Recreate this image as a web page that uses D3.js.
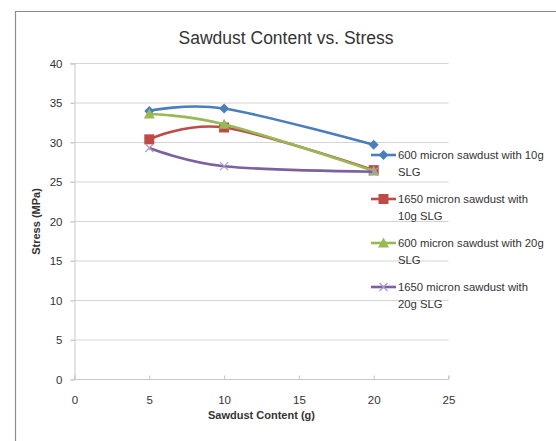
<!DOCTYPE html>
<html>
<head>
<meta charset="utf-8">
<script src="https://cdn.jsdelivr.net/npm/d3@7"></script>
<style>
  html, body { margin: 0; padding: 0; background: #fff; }
  svg { display: block; }
  text { font-family: "Liberation Sans", Arial, sans-serif; fill: #333; }
</style>
</head>
<body>
<svg id="chart" width="556" height="441"></svg>
<script>
// Sawdust content (g) on the x axis
const sawdust = [5, 10, 20];

// Stress (MPa) for each mix
const stress600_10g  = [34.0, 34.3, 29.7];
const stress1650_10g = [30.4, 31.9, 26.5];
const stress600_20g  = [33.6, 32.3, 26.4];
const stress1650_20g = [29.3, 27.0, 26.3];

const seriesNames = [
  ["600 micron sawdust with 10g", "SLG"],
  ["1650 micron sawdust with", "10g SLG"],
  ["600 micron sawdust with 20g", "SLG"],
  ["1650 micron sawdust with", "20g SLG"]
];

const xTicks = [0, 5, 10, 15, 20, 25];
const yTicks = [0, 5, 10, 15, 20, 25, 30, 35, 40];

const series = [
  { name: seriesNames[0], values: stress600_10g,  color: "#4a7ebb", marker: "diamond" },
  { name: seriesNames[1], values: stress1650_10g, color: "#be4b48", marker: "square" },
  { name: seriesNames[2], values: stress600_20g,  color: "#98b954", marker: "triangle" },
  { name: seriesNames[3], values: stress1650_20g, color: "#7d60a0", marker: "cross" }
];

const svg = d3.select("#chart");

// chart frame
svg.append("path")
  .attr("d", "M15.5,441 V11.5 H556")
  .attr("fill", "none")
  .attr("stroke", "#8c8c8c")
  .attr("stroke-width", 1.2);

const x = d3.scaleLinear().domain([0, 25]).range([74.5, 448.5]);
const y = d3.scaleLinear().domain([0, 40]).range([379.5, 63.5]);

// gridlines
svg.append("g")
  .selectAll("line")
  .data(yTicks.filter(t => t > 0))
  .join("line")
  .attr("x1", x(0) - 4).attr("x2", x(25))
  .attr("y1", d => y(d)).attr("y2", d => y(d))
  .attr("stroke", "#d4d4d4").attr("stroke-width", 1);

// y axis
const yAxis = svg.append("g")
  .attr("transform", `translate(${x(0)},0)`)
  .call(d3.axisLeft(y).tickValues(yTicks).tickSize(4).tickPadding(8));
yAxis.select(".domain").attr("stroke", "#c8c8c8");
yAxis.selectAll(".tick line").attr("stroke", "#c8c8c8");
yAxis.selectAll(".tick text").style("font-size", "11.5px").attr("fill", "#444");

// x axis
const xAxis = svg.append("g")
  .attr("transform", `translate(0,${y(0)})`)
  .call(d3.axisBottom(x).tickValues(xTicks).tickSize(4).tickPadding(12));
xAxis.select(".domain").attr("stroke", "#c8c8c8").attr("d", `M${x(0)},-4V0H${x(25)}V-4`);
xAxis.selectAll(".tick line").attr("y1", -4).attr("y2", 0).attr("stroke", "#c8c8c8");
xAxis.selectAll(".tick text").style("font-size", "11.5px").attr("fill", "#444");

// title
svg.append("text")
  .attr("x", 286).attr("y", 44)
  .attr("text-anchor", "middle")
  .style("font-size", "17.5px")
  .attr("fill", "#222")
  .text("Sawdust Content vs. Stress");

// axis titles
svg.append("text")
  .attr("x", x(12.5)).attr("y", 419)
  .attr("text-anchor", "middle")
  .style("font-size", "11px").style("font-weight", "bold")
  .attr("fill", "#222")
  .text("Sawdust Content (g)");

svg.append("text")
  .attr("transform", `translate(40,${y(20)}) rotate(-90)`)
  .attr("text-anchor", "middle")
  .style("font-size", "11px").style("font-weight", "bold")
  .attr("fill", "#222")
  .text("Stress (MPa)");

const line = d3.line()
  .x((d, i) => x(sawdust[i]))
  .y(d => y(d))
  .curve(d3.curveCardinal.tension(0));

function drawMarker(g, type, color) {
  if (type === "diamond") {
    g.append("path").attr("d", "M0,-5L5,0L0,5L-5,0Z").attr("fill", color);
  } else if (type === "square") {
    g.append("rect").attr("x", -5).attr("y", -5).attr("width", 10).attr("height", 10).attr("fill", color);
  } else if (type === "triangle") {
    g.append("path").attr("d", "M0,-5.5L5.5,4.5L-5.5,4.5Z").attr("fill", color);
  } else {
    g.append("path").attr("d", "M-4,-4L4,4M-4,4L4,-4")
      .attr("stroke", "#a99cc8").attr("stroke-width", 1.2).attr("fill", "none");
  }
}

series.forEach(s => {
  svg.append("path")
    .datum(s.values)
    .attr("d", line)
    .attr("fill", "none")
    .attr("stroke", s.color)
    .attr("stroke-width", 2.6);
  s.values.forEach((v, i) => {
    const g = svg.append("g").attr("transform", `translate(${x(sawdust[i])},${y(v)})`);
    drawMarker(g, s.marker, s.color);
  });
});

// legend
const legend = svg.append("g");
series.forEach((s, i) => {
  const cy = 155 + i * 44;
  legend.append("line")
    .attr("x1", 371).attr("x2", 396)
    .attr("y1", cy).attr("y2", cy)
    .attr("stroke", s.color).attr("stroke-width", 2.6);
  const g = legend.append("g").attr("transform", `translate(383.5,${cy})`);
  drawMarker(g, s.marker, s.color);
  s.name.forEach((t, j) => {
    legend.append("text")
      .attr("x", 398).attr("y", cy + 4 + j * 17)
      .style("font-size", "11.3px")
      .attr("fill", "#333")
      .text(t);
  });
});
</script>
</body>
</html>
